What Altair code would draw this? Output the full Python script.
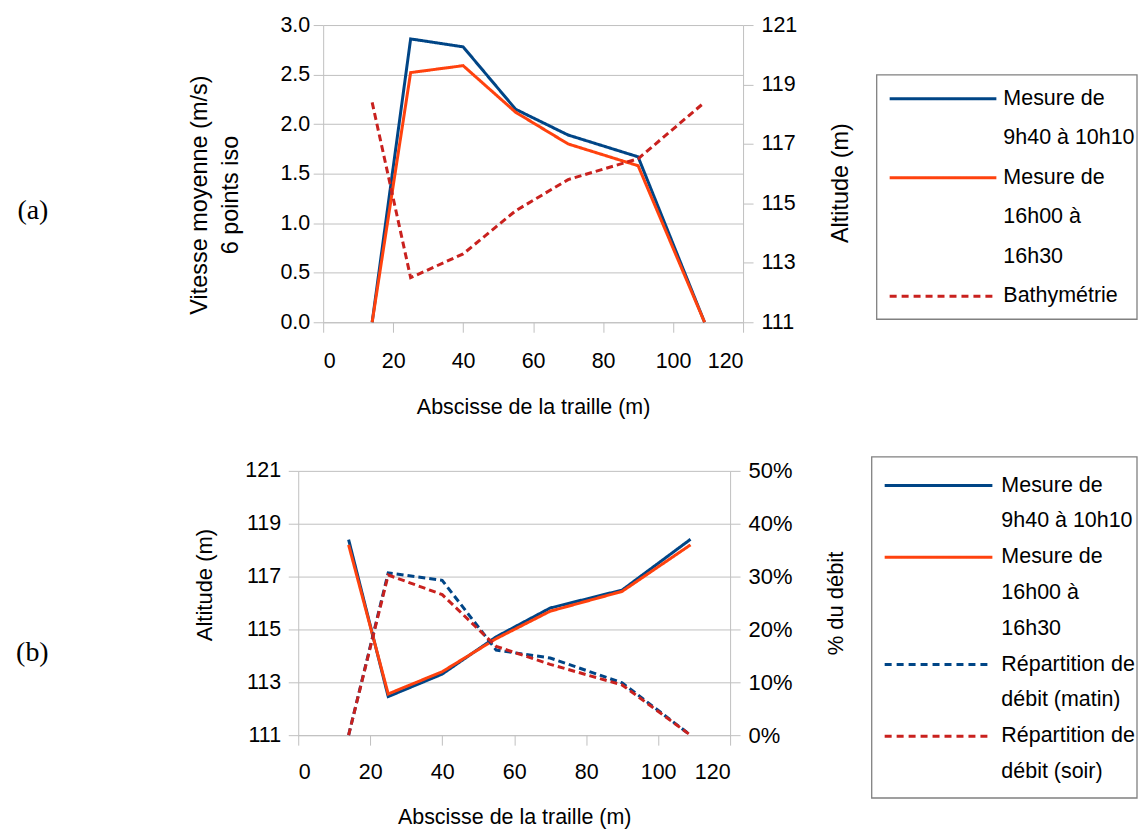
import altair as alt
import pandas as pd

# ---------------- data ----------------
abscisse = [14, 25, 40, 55, 70, 90, 109]

# panel (a)
vitesse_matin = [0.0, 2.86, 2.78, 2.15, 1.89, 1.67, 0.0]
vitesse_soir = [0.0, 2.52, 2.59, 2.12, 1.80, 1.58, 0.0]
bathymetrie = [118.4, 112.5, 113.3, 114.75, 115.8, 116.5, 118.4]

# panel (b)
altitude_matin = [118.4, 112.46, 113.31, 114.72, 115.81, 116.49, 118.41]
altitude_soir = [118.2, 112.56, 113.4, 114.65, 115.69, 116.44, 118.2]
repartition_matin = [0.0, 0.307, 0.293, 0.161, 0.146, 0.099, 0.0]
repartition_soir = [0.0, 0.303, 0.266, 0.168, 0.134, 0.095, 0.0]

legend_lines_a = [["Mesure de", "9h40 à 10h10"], ["Mesure de", "16h00 à", "16h30"],
                  ["Bathymétrie"]]
legend_lines_b = [["Mesure de", "9h40 à 10h10"], ["Mesure de", "16h00 à", "16h30"],
                  ["Répartition de", "débit (matin)"], ["Répartition de", "débit (soir)"]]

x_ticks = [0, 20, 40, 60, 80, 100, 120]
vit_ticks = [0.0, 0.5, 1.0, 1.5, 2.0, 2.5, 3.0]
alt_ticks = [111, 113, 115, 117, 119, 121]
pct_ticks = [0.0, 0.1, 0.2, 0.3, 0.4, 0.5]

BLUE = "#004586"
ORANGE = "#ff420e"
RED = "#c9211e"
GRID = "#c0c0c0"
SANS = "Liberation Sans"
FS = 21.5
SOLID = [1, 0]
DASH = [7, 4]


def series_df(vals):
    return pd.DataFrame({"x": abscisse, "v": vals})


def legend_df(lines):
    rows, r = [], 0
    for k, entry in enumerate(lines):
        for i, t in enumerate(entry):
            rows.append({"row": r, "txt": t, "entry": k, "first": i == 0})
            r += 1
    return pd.DataFrame(rows)


def x_enc(lab_pad, tit_pad, xrange):
    return alt.X(
        "x:Q",
        scale=alt.Scale(domain=[0, 120], range=xrange, nice=False),
        axis=alt.Axis(
            title="Abscisse de la traille (m)", values=x_ticks, grid=False,
            domainColor=GRID, tickColor=GRID, tickSize=10,
            labelFont=SANS, labelFontSize=FS, labelColor="black", labelPadding=lab_pad,
            titleFont=SANS, titleFontSize=FS, titleFontWeight="normal",
            titleColor="black", titlePadding=tit_pad,
        ),
    )


def line_layers(series, styles, yaxis, ydom, xenc):
    layers = []
    for vals, (col, dash) in zip(series, styles):
        layers.append(
            alt.Chart(series_df(vals)).mark_line(
                strokeWidth=3, color=col, strokeDash=dash
            ).encode(
                x=xenc,
                y=alt.Y("v:Q", scale=alt.Scale(domain=ydom, nice=False, zero=False),
                        axis=yaxis),
            )
        )
    return alt.layer(*layers)


def legend_layer(lines, styles, box, sym, lab_x, yrange):
    lg = legend_df(lines)
    nrow = len(lg) - 1
    yenc = alt.Y("row:Q", scale=alt.Scale(domain=[0, nrow], range=yrange), axis=None)
    base = alt.Chart(lg)
    layers = [
        base.transform_filter("datum.row == 0").mark_rect(
            fill="white", stroke="#808080", strokeWidth=1.3
        ).encode(x=alt.value(box[0]), x2=alt.value(box[1]),
                 y=alt.value(box[2]), y2=alt.value(box[3]))
    ]
    for k, (col, dash) in enumerate(styles):
        layers.append(
            base.transform_filter(f"datum.first && datum.entry == {k}").mark_rule(
                strokeWidth=3, color=col, strokeDash=dash
            ).encode(x=alt.value(sym[0]), x2=alt.value(sym[1]), y=yenc)
        )
    layers.append(
        base.mark_text(align="left", baseline="middle", font=SANS, fontSize=FS,
                       color="black").encode(x=alt.value(lab_x), y=yenc, text="txt:N")
    )
    return alt.layer(*layers)


axis_common = dict(domainColor=GRID, tickColor=GRID, tickSize=10, labelColor="black",
                   titleColor="black", titleFontWeight="normal", labelFont=SANS,
                   titleFont=SANS)

# ---- panel (a)
W_A = 421
xa = x_enc(18.5, 24, [0, W_A])
yl_a = alt.Axis(title=["Vitesse moyenne (m/s)", "6 points iso"], values=vit_ticks,
                format=".1f", grid=True, gridColor=GRID, labelFontSize=FS,
                labelPadding=3.5, titleFontSize=23.5, titlePadding=37,
                titleLineHeight=32, titleY=170, **axis_common)
yr_a = alt.Axis(title="Altitude (m)", orient="right", values=alt_ticks, grid=False,
                labelFontSize=FS, labelPadding=8, titleFontSize=23.5, titlePadding=31.5,
                titleAngle=270, titleBaseline="top", titleY=158, **axis_common)
styles_a_left = [(BLUE, SOLID), (ORANGE, SOLID)]
styles_a_right = [(RED, DASH)]
plot_a = alt.layer(
    line_layers([vitesse_matin, vitesse_soir], styles_a_left, yl_a, [0, 3], xa),
    line_layers([bathymetrie], styles_a_right, yr_a, [111, 121], xa),
).resolve_scale(y="independent")
leg_a = legend_layer(legend_lines_a, styles_a_left + [(RED, [7, 5])],
                     box=(555, 816, 50, 295), sym=(568, 675), lab_x=682,
                     yrange=[74, 272])
title_a = alt.TitleParams(text="(a)", orient="left", angle=0, font="Liberation Serif",
                          fontSize=28, fontWeight="normal", color="black", anchor="middle",
                          align="right", baseline="middle", offset=108, dy=37)
chart_a = alt.layer(plot_a, leg_a).resolve_scale(y="independent").properties(
    width=W_A, height=298, title=title_a)

# ---- panel (b): its plot starts 25 px left of panel (a)'s
SHIFT_B = 25
W_B = 433 - SHIFT_B
xb = x_enc(16, 24, [-SHIFT_B, W_B])
yl_b = alt.Axis(title="Altitude (m)", values=alt_ticks, grid=True, gridColor=GRID,
                labelFontSize=FS, labelPadding=7.7, titleFontSize=22, titlePadding=28,
                titleY=114, offset=SHIFT_B, **axis_common)
yr_b = alt.Axis(title="% du débit", orient="right", values=pct_ticks, format=".0%",
                grid=False, labelFontSize=22, labelPadding=8, titleFontSize=22,
                titlePadding=34, titleAngle=270, titleBaseline="top", **axis_common)
styles_b_left = [(BLUE, SOLID), (ORANGE, SOLID)]
styles_b_right = [(BLUE, DASH), (RED, DASH)]
plot_b = alt.layer(
    line_layers([altitude_matin, altitude_soir], styles_b_left, yl_b, [111, 121], xb),
    line_layers([repartition_matin, repartition_soir], styles_b_right, yr_b, [0, 0.5], xb),
).resolve_scale(y="independent")
leg_b = legend_layer(legend_lines_b, styles_b_left + [(BLUE, [7, 5]), (RED, [7, 5])],
                     box=(550, 816, -14, 328), sym=(563, 671), lab_x=680,
                     yrange=[14.7, 302])
title_b = alt.TitleParams(text="(b)", orient="left", angle=0, font="Liberation Serif",
                          fontSize=28, fontWeight="normal", color="black", anchor="middle",
                          align="right", baseline="middle", offset=113, dy=50)
chart_b = alt.layer(plot_b, leg_b).resolve_scale(y="independent").properties(
    width=W_B, height=265, title=title_b)

chart = alt.vconcat(chart_a, chart_b, spacing=38).properties(
    padding={"left": 8, "top": 5, "right": 0, "bottom": 0}
).configure_view(stroke=None)

chart.save("out.html", embed_options={"renderer": "svg", "actions": False})
